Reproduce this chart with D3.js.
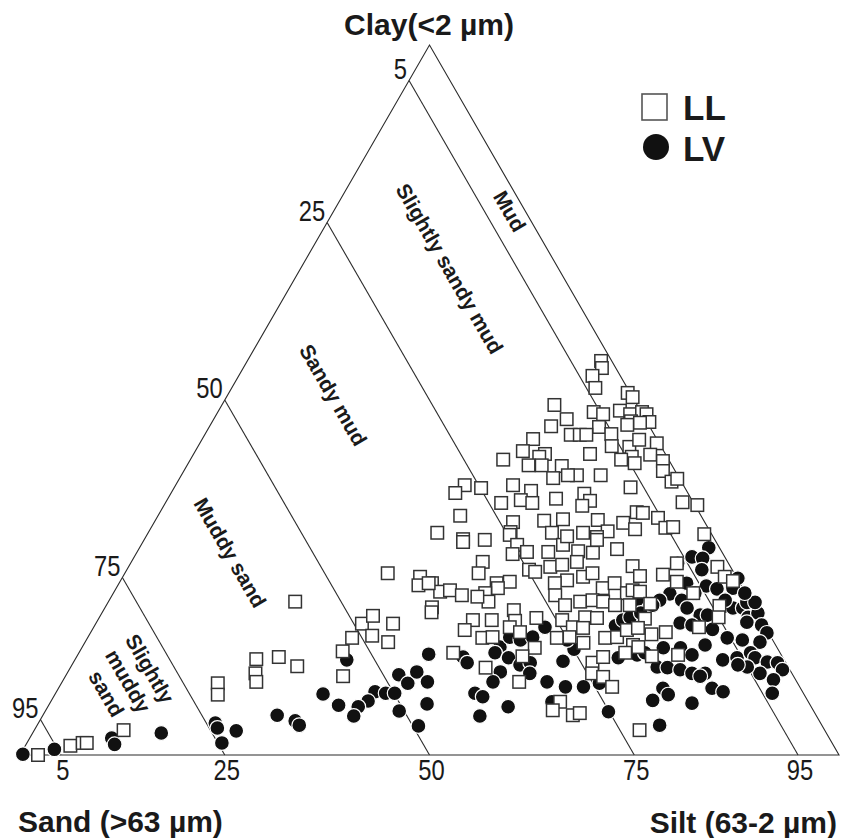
<!DOCTYPE html>
<html lang="en">
<head>
<meta charset="utf-8">
<title>Ternary diagram</title>
<script src="https://cdn.jsdelivr.net/npm/d3@7"></script>
<style>
  body { margin: 0; background: #fff; }
  svg { display: block; }
  .edge, .cls { fill: none; stroke: #2b2b2b; stroke-width: 1.1; }
  .tick { font-family: "Liberation Sans", Arial, sans-serif; font-size: 29px; fill: #1a1a1a; }
  .ttl { font-family: "Liberation Sans", Arial, sans-serif; font-weight: bold; font-size: 30px; fill: #1a1a1a; }
  .zone { font-family: "Liberation Sans", Arial, sans-serif; font-weight: bold; font-size: 21px; fill: #1a1a1a; }
  .leg { font-family: "Liberation Sans", Arial, sans-serif; font-weight: bold; font-size: 35px; fill: #1a1a1a; }
</style>
</head>
<body>
<script>
// class boundaries (sand %) - left edge shows sand, bottom shows silt
var sandLines = [5, 25, 50, 75, 95];

// points as [silt %, clay %]  (sand = rest)
var llPoints = [
  [43.2,55.5],[43.8,54.5],[43.2,53.4],[44.4,51.7],[48.7,51.0],[49.6,50.4],[40.6,49.3],[45.9,48.3],
  [47.2,48.0],[49.0,48.5],[50.5,48.0],[51.8,48.3],[52.5,48.0],[53.4,46.9],[51.1,47.0],[50.9,46.5],
  [52.3,46.8],[43.1,47.3],[41.7,46.3],[47.6,46.2],[49.6,45.2],[44.7,45.1],[45.8,45.1],[46.6,45.1],
  [40.4,44.5],[50.5,43.5],[52.7,43.4],[53.4,44.4],[55.8,43.9],[53.7,42.0],[52.6,41.6],[55.8,42.3],
  [54.5,41.1],[57.8,41.4],[58.5,40.0],[40.0,42.8],[48.4,42.4],[42.9,42.4],[42.4,42.0],[38.2,41.6],
  [41.7,40.8],[45.8,40.7],[43.3,40.8],[48.3,39.4],[51.2,39.4],[45.6,39.0],[47.2,39.4],[55.7,37.7],
  [35.3,38.0],[34.7,36.9],[37.5,37.6],[41.2,38.0],[43.8,37.2],[43.2,35.9],[44.8,35.5],[47.4,36.1],
  [50.5,36.8],[51.7,35.8],[51.1,35.1],[41.0,35.5],[36.9,33.7],[49.7,33.2],[47.5,33.0],[54.0,33.1],
  [56.0,31.5],[57.3,32.7],[58.2,34.2],[43.8,32.8],[44.2,31.4],[49.3,31.3],[53.1,31.3],[55.1,30.7],
  [41.6,30.3],[38.9,30.4],[60.3,38.5],[60.8,38.9],[63.1,35.6],[65.1,35.2],[59.0,34.1],[59.2,31.8],
  [61.2,33.4],[62.8,32.0],[63.7,32.1],[68.0,31.1],[35.3,31.3],[39.1,30.0],[44.3,31.0],[45.9,29.6],
  [46.0,28.3],[47.6,28.6],[49.1,26.1],[50.0,25.8],[50.2,28.6],[51.5,29.6],[51.4,30.8],[53.8,28.7],
  [55.7,28.5],[55.3,30.3],[58.4,29.0],[61.5,26.6],[42.9,27.2],[43.2,25.6],[46.1,24.2],[47.6,24.4],
  [46.6,23.5],[45.4,22.8],[46.4,21.6],[44.7,22.3],[38.2,24.2],[39.8,23.0],[40.9,23.2],[42.7,22.5],
  [39.9,20.8],[40.2,20.1],[51.5,26.5],[52.8,26.8],[54.4,27.2],[54.5,24.6],[56.2,25.1],[57.1,25.6],
  [59.4,23.5],[60.5,24.2],[62.7,22.8],[63.2,23.2],[53.2,24.2],[54.1,22.5],[56.0,21.1],[57.6,21.6],
  [59.0,21.8],[60.4,21.6],[62.1,21.1],[63.9,21.1],[50.1,20.4],[51.0,18.9],[53.4,19.3],[50.8,18.0],
  [52.4,17.3],[45.8,19.0],[48.1,19.0],[45.5,17.6],[56.7,19.0],[58.5,18.0],[59.3,19.4],[60.8,19.3],
  [59.8,17.9],[63.2,16.5],[64.6,16.6],[65.3,17.6],[67.1,15.5],[48.2,16.5],[49.4,16.6],[55.3,15.1],
  [57.3,16.5],[58.8,16.6],[60.9,15.8],[45.7,14.4],[50.7,12.3],[54.4,13.9],[55.8,10.3],[63.4,13.0],
  [64.3,13.8],[64.1,11.5],[65.7,11.0],[67.5,9.6],[66.7,14.4],[62.2,7.5],[61.9,6.3],[64.7,5.6],
  [65.4,5.9],[73.9,3.5],[63.1,25.2],[65.8,25.4],[66.7,27.0],[68.0,24.4],[71.9,26.5],[73.5,25.1],
  [74.8,24.5],[64.2,23.0],[66.3,21.3],[70.8,22.8],[74.9,21.0],[75.6,19.4],[73.9,18.0],[66.7,19.2],
  [66.5,17.9],[68.6,17.0],[70.2,17.3],[67.9,15.2],[70.2,13.9],[73.3,14.1],[22.8,21.6],[22.1,13.5],
  [23.0,11.5],[23.7,10.3],[24.7,13.8],[27.6,12.5],[19.1,10.1],[19.9,8.5],[32.5,18.5],[33.3,19.6],
  [34.6,16.8],[32.3,16.5],[32.1,14.6],[33.9,11.1],[36.3,18.5],[37.0,15.9],[32.1,25.6],[36.3,25.1],
  [36.7,23.9],[37.8,24.2],[2.2,0.0],[5.5,1.3],[6.8,1.7],[7.3,1.7],[10.9,3.5]
];

var lvPoints = [
  [0.3,0.1],[3.8,0.8],[10.0,2.4],[10.8,1.5],[15.7,3.1],[21.6,4.5],[22.2,3.8],[24.7,3.4],
  [23.8,1.7],[28.6,5.6],[31.2,4.8],[32.0,4.2],[33.2,13.4],[32.7,8.6],[35.4,7.0],[38.9,8.9],
  [40.3,8.7],[41.4,8.7],[38.7,7.6],[37.9,6.8],[38.0,5.5],[40.6,11.3],[42.3,10.1],[42.6,11.7],
  [44.6,10.3],[43.2,6.2],[46.1,7.2],[46.6,4.1],[42.8,14.2],[47.2,13.8],[48.1,13.0],[51.0,15.2],
  [51.5,16.6],[50.8,14.4],[52.8,13.7],[53.0,16.2],[54.3,16.6],[55.1,18.0],[54.7,12.7],[55.8,13.0],
  [56.5,11.5],[52.8,11.7],[52.6,10.3],[51.2,8.7],[52.4,8.2],[53.4,5.5],[56.2,6.8],[59.2,10.3],
  [61.8,9.6],[64.0,9.6],[59.7,13.2],[60.2,14.9],[58.7,16.2],[63.6,18.2],[64.1,19.0],[66.2,13.7],
  [68.3,14.1],[64.4,21.8],[64.8,19.4],[65.7,10.1],[68.8,6.1],[61.2,7.5],[69.5,29.2],[68.1,27.9],
  [69.5,27.7],[66.8,27.0],[70.2,26.1],[69.3,24.2],[71.9,23.8],[73.4,23.4],[71.0,22.8],[68.0,22.7],
  [67.2,21.8],[69.9,21.8],[75.3,23.5],[75.2,24.9],[71.1,20.7],[73.2,19.7],[74.1,19.7],[76.7,20.7],
  [77.9,20.7],[79.2,19.4],[80.1,20.0],[78.0,21.5],[79.0,21.5],[71.3,18.6],[72.9,18.3],[75.7,17.7],
  [79.4,18.7],[81.4,18.3],[82.6,17.2],[82.4,15.9],[78.1,16.5],[80.1,16.2],[75.9,15.5],[71.0,15.1],
  [73.1,15.1],[69.1,14.4],[75.0,14.1],[79.1,13.4],[80.7,13.7],[82.0,14.4],[82.9,13.7],[84.7,13.1],
  [86.0,13.0],[87.1,12.0],[86.7,10.6],[84.6,11.5],[82.6,12.4],[81.3,12.7],[87.5,8.7],[71.6,12.4],
  [72.9,12.3],[74.6,12.0],[76.3,11.5],[77.9,11.5],[77.5,11.1],[73.8,9.4],[74.9,8.5],[73.4,7.7],
  [79.8,9.4],[81.4,8.9],[78.4,7.3],[76.0,4.2],[65.8,20.0],[66.7,21.1],[75.2,21.8],[77.1,22.8]
];

// zone names, placed at [silt, clay]
var zoneNames = [
  {lines: ["Mud"], at: [21.5, 76.6]},
  {lines: ["Slightly sandy mud"], at: [18.2, 68.5]},
  {lines: ["Sandy mud"], at: [12.9, 50.7]},
  {lines: ["Muddy sand"], at: [11.4, 28.5]},
  {lines: ["Slightly", "muddy", "sand"], at: [8.0, 10.4]}
];

var legendNames = ["LL", "LV"];

var w = 841, h = 838;

// ternary -> screen: x from (silt + clay/2), y from clay
var xScale = d3.scaleLinear().domain([0, 100]).range([20, 839]);
var yScale = d3.scaleLinear().domain([0, 100]).range([755, 45]);
function px(silt, clay) { return [xScale(silt + clay / 2), yScale(clay)]; }

var svg = d3.select("body").append("svg").attr("width", w).attr("height", h);

// outer triangle
var corners = [px(0, 0), px(100, 0), px(0, 100)];
svg.append("path").attr("class", "edge")
  .attr("d", d3.line()(corners) + "Z");

// condensed numbers like the original
function narrow(sel, x, y) {
  sel.attr("transform", "translate(" + x + "," + y + ") scale(0.82,1)");
}

// constant-sand class lines
sandLines.forEach(function(s) {
  var a = px(0, 100 - s), b = px(100 - s, 0);
  svg.append("line").attr("class", "cls")
    .attr("x1", a[0]).attr("y1", a[1]).attr("x2", b[0]).attr("y2", b[1]);
  svg.append("text").attr("class", "tick")
    .attr("text-anchor", "end").text(s)
    .call(narrow, a[0] - 2, a[1] - 2);
  svg.append("text").attr("class", "tick")
    .attr("text-anchor", "middle").text(100 - s)
    .call(narrow, b[0] + 2, 780);
});

// zone labels, rotated along the class lines
zoneNames.forEach(function(z) {
  var p = px(z.at[0], z.at[1]);
  var t = svg.append("text").attr("class", "zone")
    .attr("transform", "translate(" + p[0] + "," + p[1] + ") rotate(60)")
    .attr("text-anchor", "middle");
  var n = z.lines.length;
  z.lines.forEach(function(l, i) {
    t.append("tspan").attr("x", 0)
      .attr("y", (i - (n - 1) / 2) * 25)
      .attr("dy", "0.35em").text(l);
  });
});

// LV circles underneath, LL squares on top
svg.append("g").selectAll("circle")
  .data(lvPoints).enter().append("circle")
  .attr("cx", function(d) { return px(d[0], d[1])[0]; })
  .attr("cy", function(d) { return px(d[0], d[1])[1]; })
  .attr("r", 7.4)
  .attr("fill", "#111").attr("stroke", "#fff").attr("stroke-width", 1.2);

var sq = 12.5;
svg.append("g").selectAll("rect")
  .data(llPoints).enter().append("rect")
  .attr("x", function(d) { return px(d[0], d[1])[0] - sq / 2; })
  .attr("y", function(d) { return px(d[0], d[1])[1] - sq / 2; })
  .attr("width", sq).attr("height", sq)
  .attr("fill", "#fff").attr("stroke", "#333").attr("stroke-width", 1.5);

// axis titles
svg.append("text").attr("class", "ttl").attr("x", 429).attr("y", 35)
  .attr("text-anchor", "middle").text("Clay(<2 µm)");
svg.append("text").attr("class", "ttl").attr("x", 18).attr("y", 832)
  .text("Sand (>63 µm)");
svg.append("text").attr("class", "ttl").attr("x", 837).attr("y", 833)
  .attr("text-anchor", "end").text("Silt (63-2 µm)");

// legend
var lg = svg.append("g").attr("transform", "translate(642,94)");
lg.append("rect").attr("x", 0).attr("y", 0).attr("width", 25).attr("height", 26)
  .attr("fill", "#fff").attr("stroke", "#555").attr("stroke-width", 1.6);
lg.append("circle").attr("cx", 14).attr("cy", 53).attr("r", 13).attr("fill", "#111");
lg.selectAll("text.leg").data(legendNames).enter().append("text")
  .attr("class", "leg").attr("x", 41)
  .attr("y", function(d, i) { return 26 + i * 41; })
  .text(function(d) { return d; });
</script>
</body>
</html>
